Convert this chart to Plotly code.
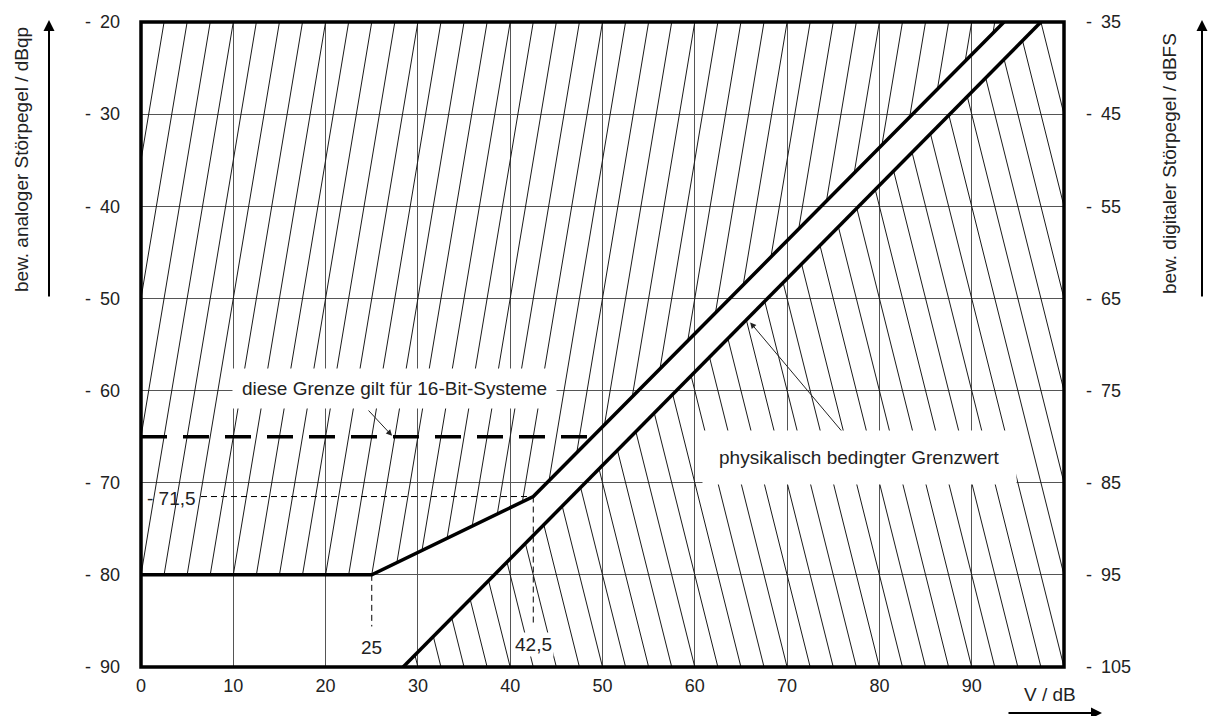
import numpy as np
import plotly.graph_objects as go

# ---------------- data ----------------
X_TICKS = list(range(0, 100, 10))
Y_LEFT_TICKS = list(range(-90, -19, 10))
Y_RIGHT_TICKS = list(range(-105, -34, 10))

# upper boundary (16-bit / knee curve)
UPPER_X = [0, 25, 42.5, 93.5]
UPPER_Y = [-80, -80, -71.5, -20]
# lower boundary (physical limit)
LOWER_X = [28.4, 97.5]
LOWER_Y = [-90, -20]
# 16 bit limit
LIMIT_16BIT = -65
# marked knee values
KNEE1_X = 25
KNEE2_X = 42.5
KNEE2_Y = -71.5

X_RANGE = [0, 100]
Y_RANGE = [-90, -20]
Y2_RANGE = [-105, -35]

# hatch style params
HATCH_STEP = 2.5
HATCH_A_SLOPE = 6.0     # "/" lines, dy/dx
HATCH_A_ANCHOR = -80.0
HATCH_B_SLOPE = 4.0     # "\" lines, -dy/dx
HATCH_B_ANCHOR = -90.0

FONT = "Liberation Sans, Arial, sans-serif"

PLOT_L, PLOT_T, PLOT_W, PLOT_H = 141, 22, 923, 645
FIG_W, FIG_H = 1208, 716


def f_upper(x):
    return float(np.interp(x, UPPER_X, UPPER_Y))


LOW_SLOPE = (LOWER_Y[1] - LOWER_Y[0]) / (LOWER_X[1] - LOWER_X[0])


def f_lower(x):
    return LOWER_Y[0] + (x - LOWER_X[0]) * LOW_SLOPE


def bisect(fn, lo, hi):
    flo = fn(lo)
    for _ in range(80):
        mid = 0.5 * (lo + hi)
        fm = fn(mid)
        if (fm > 0) == (flo > 0):
            lo, flo = mid, fm
        else:
            hi = mid
    return 0.5 * (lo + hi)


# "/" hatching above the upper boundary
ha_x, ha_y = [], []
for c in np.arange(-30, X_RANGE[1] + 1e-9, HATCH_STEP):
    xa = lambda y, c=c: c + (y - HATCH_A_ANCHOR) / HATCH_A_SLOPE
    y_lo = max(Y_RANGE[0], HATCH_A_ANCHOR - HATCH_A_SLOPE * (c - X_RANGE[0]))
    y_hi = min(Y_RANGE[1], HATCH_A_ANCHOR + HATCH_A_SLOPE * (X_RANGE[1] - c))
    if y_hi <= y_lo:
        continue
    g = lambda y, xa=xa: y - f_upper(xa(y))
    if g(y_hi) <= 0:
        continue
    if g(y_lo) < 0:
        y_lo = bisect(g, y_lo, y_hi)
    ha_x += [xa(y_lo), xa(y_hi), None]
    ha_y += [y_lo, y_hi, None]

# "\" hatching below the lower boundary
hb_x, hb_y = [], []
for c in np.arange(0, X_RANGE[1] + 40, HATCH_STEP):
    xb = lambda y, c=c: c - (y - HATCH_B_ANCHOR) / HATCH_B_SLOPE
    y_lo = max(Y_RANGE[0], HATCH_B_ANCHOR + HATCH_B_SLOPE * (c - X_RANGE[1]))
    y_hi = min(Y_RANGE[1], HATCH_B_ANCHOR + HATCH_B_SLOPE * (c - X_RANGE[0]))
    if y_hi <= y_lo:
        continue
    h = lambda y, xb=xb: y - f_lower(xb(y))
    if h(y_lo) >= 0:
        continue
    if h(y_hi) > 0:
        y_hi = bisect(h, y_lo, y_hi)
    hb_x += [xb(y_lo), xb(y_hi), None]
    hb_y += [y_lo, y_hi, None]

fig = go.Figure()
hatch_line = dict(color="#1a1a1a", width=1)
fig.add_trace(go.Scatter(x=ha_x, y=ha_y, mode="lines", line=hatch_line, hoverinfo="skip"))
fig.add_trace(go.Scatter(x=hb_x, y=hb_y, mode="lines", line=hatch_line, hoverinfo="skip"))

# thick boundaries
thick = dict(color="black", width=3.5)
fig.add_trace(go.Scatter(x=UPPER_X, y=UPPER_Y, mode="lines", line=thick, hoverinfo="skip"))
fig.add_trace(go.Scatter(x=LOWER_X, y=LOWER_Y, mode="lines", line=thick, hoverinfo="skip"))

# 16-bit limit dashed line up to the upper boundary
x_end16 = float(np.interp(LIMIT_16BIT, UPPER_Y, UPPER_X))
fig.add_trace(go.Scatter(x=[X_RANGE[0], x_end16], y=[LIMIT_16BIT, LIMIT_16BIT], mode="lines",
                         line=dict(color="black", width=3.5, dash="26px,16px"), hoverinfo="skip"))

# thin dashed guide lines
thin_dash = dict(color="black", width=1, dash="6px,4px")
LABEL_GAP = 6.5
fig.add_trace(go.Scatter(x=[LABEL_GAP, KNEE2_X], y=[KNEE2_Y, KNEE2_Y], mode="lines",
                         line=thin_dash, hoverinfo="skip"))
fig.add_trace(go.Scatter(x=[KNEE2_X, KNEE2_X], y=[KNEE2_Y, -85.2], mode="lines",
                         line=thin_dash, hoverinfo="skip"))
fig.add_trace(go.Scatter(x=[KNEE1_X, KNEE1_X], y=[UPPER_Y[0], -85.6], mode="lines",
                         line=thin_dash, hoverinfo="skip"))

# invisible trace for right axis
fig.add_trace(go.Scatter(x=[X_RANGE[0]], y=[Y2_RANGE[0]], yaxis="y2", mode="markers",
                         marker=dict(opacity=0), hoverinfo="skip"))

m_l = PLOT_L
m_t = PLOT_T
m_r = FIG_W - m_l - PLOT_W
m_b = FIG_H - m_t - PLOT_H

tickfont = dict(family=FONT, size=18, color="#222")
SEP = "-\u2002"
fig.update_layout(
    width=FIG_W, height=FIG_H,
    margin=dict(l=m_l, r=m_r, t=m_t, b=m_b, autoexpand=False),
    paper_bgcolor="white", plot_bgcolor="white",
    showlegend=False,
    xaxis=dict(range=X_RANGE, tickvals=X_TICKS, ticktext=[str(v) for v in X_TICKS],
               showgrid=True, gridcolor="#555", gridwidth=1, zeroline=False,
               ticks="", tickfont=tickfont, ticklabelstandoff=6, showline=False,
               automargin=False),
    yaxis=dict(range=Y_RANGE, tickvals=Y_LEFT_TICKS,
               ticktext=[SEP + str(abs(v)) for v in Y_LEFT_TICKS],
               showgrid=True, gridcolor="#555", gridwidth=1, zeroline=False,
               ticks="", tickfont=tickfont, ticklabelstandoff=20, showline=False,
               automargin=False),
    yaxis2=dict(range=Y2_RANGE, tickvals=Y_RIGHT_TICKS,
                ticktext=[SEP + str(abs(v)) for v in Y_RIGHT_TICKS],
                overlaying="y", side="right", showgrid=False, zeroline=False,
                ticks="", tickfont=tickfont, ticklabelstandoff=21, showline=False,
                automargin=False),
    shapes=[dict(type="rect", xref="paper", yref="paper", x0=0, x1=1, y0=0, y1=1,
                 line=dict(color="black", width=3.5), layer="above")],
)

textfont = dict(family=FONT, size=19, color="#222")
ann = []
ann.append(dict(x=27.5, y=-59.75, xref="x", yref="y", text="diese Grenze gilt für 16-Bit-Systeme",
                showarrow=False, bgcolor="white", borderpad=9, font=textfont))
ann.append(dict(x=77.8, y=-67.3, xref="x", yref="y", text="physikalisch bedingter Grenzwert",
                showarrow=False, bgcolor="white", borderpad=16, font=textfont))
ann.append(dict(x=27.2, y=LIMIT_16BIT + 0.1, xref="x", yref="y", ax=24.5, ay=-62.0,
                axref="x", ayref="y", text="", showarrow=True, arrowhead=2,
                arrowsize=1.2, arrowwidth=1, arrowcolor="#222", standoff=0))
ann.append(dict(x=66.0, y=-52.6, xref="x", yref="y", ax=76.0, ay=-64.5,
                axref="x", ayref="y", text="", showarrow=True, arrowhead=2,
                arrowsize=1.2, arrowwidth=1, arrowcolor="#222", standoff=0))
lblfont = dict(family=FONT, size=19, color="#222")
ann.append(dict(x=3.3, y=KNEE2_Y - 0.2, xref="x", yref="y", text="- 71,5", showarrow=False,
                font=lblfont))
ann.append(dict(x=KNEE1_X, y=-87.9, xref="x", yref="y", text="25", showarrow=False,
                font=lblfont, bgcolor="white", borderpad=1))
ann.append(dict(x=KNEE2_X, y=-87.6, xref="x", yref="y", text="42,5", showarrow=False,
                font=lblfont, bgcolor="white", borderpad=1))


# axis titles and arrows (paper coords, from screen pixel positions of the reference)
def px2paper_x(px):
    return (px - PLOT_L) / float(PLOT_W)


def px2paper_y(py):
    return (PLOT_T + PLOT_H - py) / float(PLOT_H)


titlefont = dict(family=FONT, size=19, color="#222")
center = dict(xanchor="center", yanchor="middle")
ann.append(dict(x=px2paper_x(22), y=px2paper_y(159), xref="paper", yref="paper",
                text="bew. analoger Störpegel / dBqp", textangle=-90, showarrow=False,
                font=titlefont, **center))
ann.append(dict(x=px2paper_x(1170), y=px2paper_y(164), xref="paper", yref="paper",
                text="bew. digitaler Störpegel / dBFS", textangle=-90, showarrow=False,
                font=titlefont, **center))
ann.append(dict(x=px2paper_x(1050), y=px2paper_y(694), xref="paper", yref="paper",
                text="V / dB", showarrow=False, font=titlefont, **center))
arrow_common = dict(xref="paper", yref="paper", text="", showarrow=True, arrowhead=2,
                    arrowsize=1.1, arrowwidth=2, arrowcolor="black", standoff=0)
ann.append(dict(x=px2paper_x(49), y=px2paper_y(20), ax=0, ay=278, **arrow_common))
ann.append(dict(x=px2paper_x(1202), y=px2paper_y(20), ax=0, ay=278, **arrow_common))
ann.append(dict(x=px2paper_x(1102), y=px2paper_y(713), ax=-95, ay=0, **arrow_common))

fig.update_layout(annotations=ann)

fig.write_html(
    "out.html",
    config={"displayModeBar": False, "staticPlot": True},
    post_script="document.body.style.margin='0';document.body.style.overflow='hidden';",
)
